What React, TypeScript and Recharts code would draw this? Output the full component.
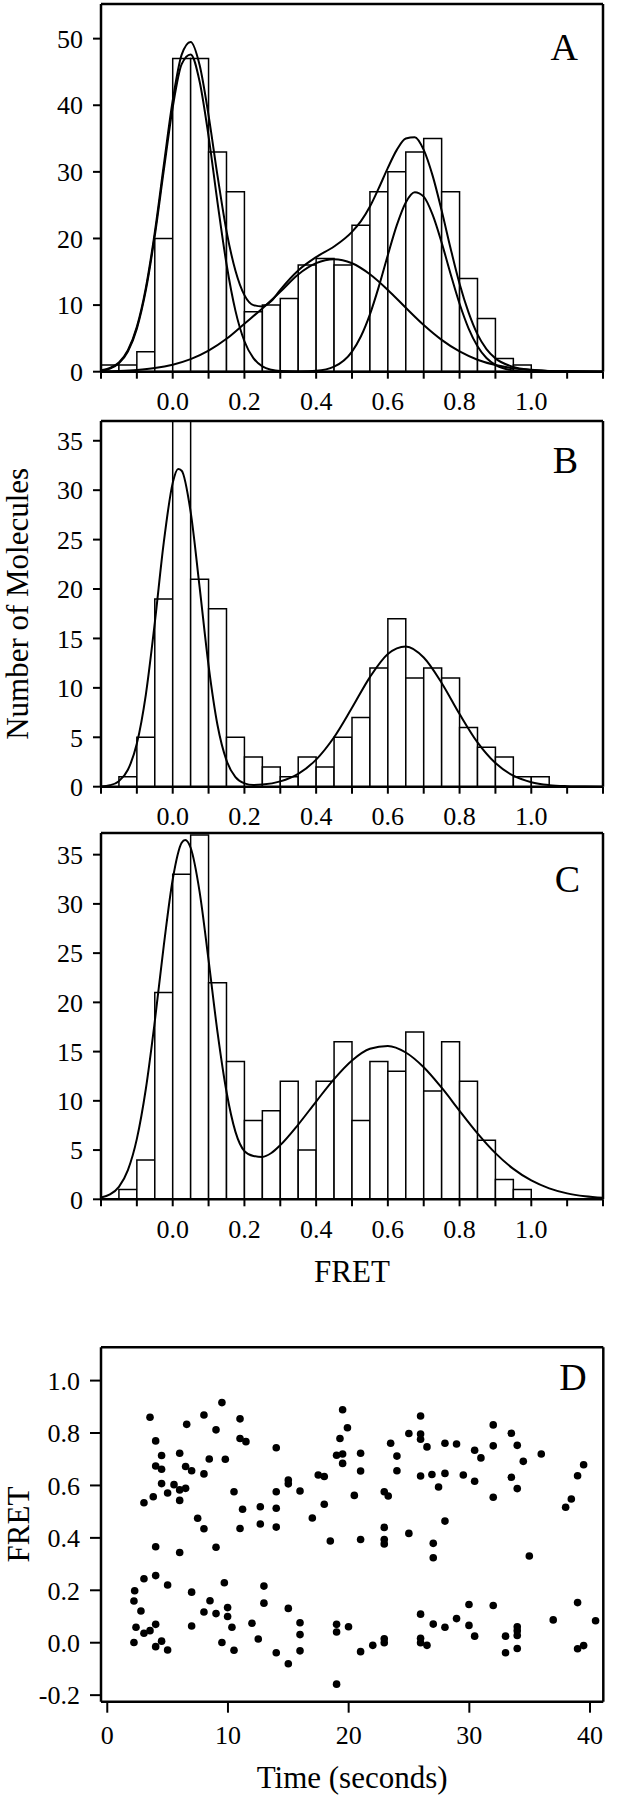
import React from "react";
import { ComposedChart, Bar, Line, Scatter, XAxis, YAxis, Label } from "recharts";

// ---------------- data ----------------
const binStarts = [-0.2, -0.15, -0.1, -0.05, 0, 0.05, 0.1, 0.15, 0.2, 0.25, 0.3, 0.35, 0.4, 0.45, 0.5, 0.55, 0.6, 0.65, 0.7, 0.75, 0.8, 0.85, 0.9, 0.95, 1.0, 1.05, 1.1, 1.15];
const binWidth = 0.05;

const countsA = [1, 1, 3, 20, 47, 47, 33, 27, 9, 10, 11, 16, 17, 16, 22, 27, 30, 33, 35, 27, 14, 8, 2, 1, 0, 0, 0, 0];
const countsB = [0, 1, 5, 19, 37, 21, 18, 5, 3, 2, 1, 3, 2, 5, 7, 12, 17, 11, 12, 11, 6, 4, 3, 1, 1, 0, 0, 0];
const countsC = [0, 1, 4, 21, 33, 37, 22, 14, 8, 9, 12, 5, 12, 16, 8, 14, 13, 17, 11, 16, 12, 6, 2, 1, 0, 0, 0, 0];

// fitted curves
const fitASumX = [-0.2, -0.175, -0.15, -0.125, -0.1, -0.075, -0.05, -0.025, 0, 0.025, 0.05, 0.075, 0.1, 0.125, 0.15, 0.175, 0.2, 0.225, 0.25, 0.275, 0.3, 0.35, 0.4, 0.45, 0.5, 0.525, 0.55, 0.575, 0.6, 0.625, 0.65, 0.675, 0.7, 0.725, 0.75, 0.775, 0.8, 0.825, 0.85, 0.875, 0.9, 0.95, 1.0, 1.05, 1.1, 1.15, 1.2];
const fitASumY = [0.2, 0.55, 1.39, 3.22, 6.73, 12.58, 20.93, 30.96, 40.71, 47.59, 49.51, 46.04, 38.48, 29.39, 21.11, 15.16, 11.5, 10.0, 9.8, 10.6, 12.3, 15.2, 17.2, 18.8, 21.0, 22.6, 24.8, 27.6, 30.6, 33.3, 35.0, 35.2, 33.3, 29.4, 24.2, 18.5, 13.2, 8.9, 5.6, 3.4, 2.0, 0.72, 0.28, 0.11, 0.05, 0.02, 0.01];

const fitAG1X = [-0.2, -0.175, -0.15, -0.125, -0.1, -0.075, -0.05, -0.025, 0, 0.025, 0.05, 0.075, 0.1, 0.125, 0.15, 0.175, 0.2, 0.225, 0.25, 0.275, 0.3, 0.35, 0.4, 0.6, 0.8, 1.0, 1.2];
const fitAG1Y = [0.15, 0.47, 1.27, 3.04, 6.47, 12.2, 20.39, 30.2, 39.66, 46.17, 47.63, 43.57, 35.32, 25.39, 16.17, 9.13, 4.57, 2.03, 0.8, 0.28, 0.09, 0.01, 0, 0, 0, 0, 0];

const fitAG2X = [-0.2, -0.15, -0.1, -0.05, 0, 0.05, 0.1, 0.15, 0.2, 0.25, 0.3, 0.35, 0.4, 0.45, 0.5, 0.55, 0.6, 0.65, 0.7, 0.75, 0.8, 0.85, 0.9, 0.95, 1.0, 1.05, 1.1, 1.15, 1.2];
const fitAG2Y = [0.05, 0.12, 0.26, 0.54, 1.05, 1.88, 3.16, 4.94, 7.21, 9.5, 12.0, 14.6, 16.3, 16.9, 16.28, 14.63, 12.27, 9.6, 7.01, 4.78, 3.04, 1.8, 1.0, 0.52, 0.25, 0.11, 0.05, 0.02, 0.01];

const fitAG3X = [-0.2, 0.3, 0.35, 0.4, 0.45, 0.5, 0.525, 0.55, 0.575, 0.6, 0.625, 0.65, 0.675, 0.7, 0.725, 0.75, 0.775, 0.8, 0.825, 0.85, 0.875, 0.9, 0.95, 1.0, 1.05, 1.2];
const fitAG3Y = [0, 0, 0.02, 0.13, 0.76, 3.02, 5.32, 8.61, 12.81, 17.52, 22.0, 25.41, 26.95, 26.28, 23.54, 19.38, 14.67, 10.2, 6.52, 3.83, 2.06, 1.02, 0.2, 0.03, 0, 0];

const fitBX = [-0.2, -0.175, -0.15, -0.125, -0.1, -0.075, -0.05, -0.025, 0, 0.015, 0.025, 0.05, 0.075, 0.1, 0.125, 0.15, 0.175, 0.2, 0.225, 0.25, 0.3, 0.35, 0.4, 0.45, 0.5, 0.55, 0.6, 0.65, 0.7, 0.75, 0.8, 0.85, 0.9, 0.95, 1.0, 1.05, 1.1, 1.15, 1.2];
const fitBY = [0.03, 0.15, 0.56, 1.71, 4.36, 9.3, 16.57, 24.69, 30.74, 32.15, 31.97, 27.8, 20.19, 12.26, 6.22, 2.66, 0.96, 0.34, 0.18, 0.22, 0.54, 1.3, 2.74, 5.0, 7.98, 11.09, 13.43, 14.19, 13.07, 10.5, 7.35, 4.48, 2.39, 1.11, 0.45, 0.16, 0.05, 0.01, 0];

const fitCX = [-0.2, -0.175, -0.15, -0.125, -0.1, -0.075, -0.05, -0.025, 0, 0.025, 0.035, 0.05, 0.075, 0.1, 0.125, 0.15, 0.175, 0.2, 0.225, 0.25, 0.275, 0.3, 0.35, 0.4, 0.45, 0.5, 0.55, 0.6, 0.65, 0.7, 0.75, 0.8, 0.85, 0.9, 0.95, 1.0, 1.05, 1.1, 1.15, 1.2];
const fitCY = [0.17, 0.49, 1.27, 2.97, 6.14, 11.2, 18.06, 25.73, 32.48, 36.2, 36.5, 35.7, 31.23, 24.28, 16.95, 10.92, 6.85, 4.9, 4.4, 4.3, 4.7, 5.5, 7.59, 9.93, 12.21, 14.1, 15.29, 15.58, 14.91, 13.41, 11.33, 8.99, 6.7, 4.69, 3.09, 1.91, 1.11, 0.6, 0.31, 0.15];

// tick labels
const fretTicks = [-0.2, -0.1, 0, 0.1, 0.2, 0.3, 0.4, 0.5, 0.6, 0.7, 0.8, 0.9, 1.0, 1.1, 1.2];
const fretTickLabels = ["", "", "0.0", "", "0.2", "", "0.4", "", "0.6", "", "0.8", "", "1.0", "", ""];
const yTicksA = [0, 10, 20, 30, 40, 50];
const yTicksBC = [0, 5, 10, 15, 20, 25, 30, 35];

// panel D: FRET vs time
const timeTicks = [0, 10, 20, 30, 40];
const dFretTicks = [-0.2, 0, 0.2, 0.4, 0.6, 0.8, 1.0];
const dFretTickLabels = ["-0.2", "0.0", "0.2", "0.4", "0.6", "0.8", "1.0"];
const dTime = [
  3.54, 4.01, 4.5, 4.01, 4.5, 4.5, 3.81, 3.04, 5.0, 5.53, 6.0, 6.49, 6.0, 6.0, 6.58, 6.49, 6.99, 8.01, 9.01, 9.5, 8.45, 8.01, 9.78, 11.0, 11.0, 11.49, 10.5, 11.21, 11.0, 7.49, 8.01, 4.01, 6.0, 9.01, 12.68, 12.68, 14.0, 14.0, 14.0, 14.0, 15.0, 15.0, 15.97, 17.48, 17.98, 17.98, 16.99, 18.48, 19.5, 19.9, 19.28, 19.0, 19.5, 19.5, 20.47, 20.99, 20.99, 20.99,
  2.27, 2.21, 2.79, 3.04, 4.01, 5.0, 2.38, 3.04, 3.54, 4.01, 2.21, 4.5, 4.01, 5.0, 6.99, 6.99, 8.01, 8.51, 9.01, 9.7, 9.97, 9.97, 10.33, 9.5, 10.5, 11.99, 12.51, 12.98, 12.98, 14.0, 15.0, 15.0, 15.97, 15.97, 15.97, 19.0, 19.0, 19.99, 20.99, 19.0,
  22.95, 23.28, 23.48, 24.0, 24.0, 24.99, 25.96, 25.96, 25.96, 26.49, 25.96, 26.9, 27.98, 27.98, 27.45, 28.94, 29.5, 30.44, 30.96, 30.44, 31.98, 31.98, 31.98, 33.48, 33.97, 34.47, 33.48, 33.97, 35.96, 39.47, 38.97, 38.45, 37.98,
  22.95, 22.95, 22.95, 24.99, 27.98, 27.01, 27.01, 34.97,
  22.0, 22.95, 22.95, 25.96, 25.96, 25.96, 26.49, 27.01, 27.98, 28.94, 29.97, 29.97, 30.44, 31.98, 33.0, 33.0, 33.97, 33.97, 33.97, 33.97, 36.95, 38.97, 38.97, 39.47, 40.46,
];
const dFret = [
  0.86, 0.77, 0.714, 0.674, 0.662, 0.607, 0.557, 0.534, 0.571, 0.603, 0.583, 0.589, 0.543, 0.723, 0.833, 0.672, 0.656, 0.869, 0.812, 0.916, 0.701, 0.644, 0.7, 0.854, 0.779, 0.767, 0.576, 0.509, 0.436, 0.475, 0.435, 0.366, 0.344, 0.364, 0.519, 0.453, 0.744, 0.576, 0.513, 0.441, 0.621, 0.606, 0.579, 0.64, 0.634, 0.528, 0.476, 0.388, 0.889, 0.82, 0.779, 0.715, 0.72, 0.684, 0.562, 0.723, 0.655, 0.394,
  0.198, 0.159, 0.121, 0.244, 0.256, 0.22, 0.059, 0.036, 0.046, 0.07, 0.001, 0.006, -0.015, -0.028, 0.193, 0.064, 0.117, 0.16, 0.111, 0.229, 0.134, 0.1, 0.059, 0.001, -0.029, 0.074, 0.014, 0.216, 0.151, -0.038, 0.131, -0.08, 0.076, 0.031, -0.031, 0.07, 0.041, 0.061, -0.034, -0.158,
  0.576, 0.56, 0.761, 0.712, 0.656, 0.798, 0.865, 0.796, 0.776, 0.747, 0.636, 0.642, 0.761, 0.646, 0.594, 0.758, 0.64, 0.734, 0.705, 0.616, 0.831, 0.751, 0.555, 0.799, 0.753, 0.692, 0.631, 0.588, 0.72, 0.679, 0.637, 0.548, 0.517,
  0.44, 0.394, 0.377, 0.417, 0.464, 0.379, 0.324, 0.331,
  -0.01, 0.015, 0.0, 0.109, 0.017, 0.0, -0.01, 0.071, 0.059, 0.092, 0.146, 0.066, 0.025, 0.142, 0.025, -0.038, 0.061, 0.046, 0.028, -0.022, 0.087, 0.153, -0.023, -0.011, 0.084,
];

// ---------------- layout / style ----------------
const W = 617;
const PLOT_LEFT = 101;
const PLOT_RIGHT = 603;
const FRET_DOMAIN: [number, number] = [-0.2, 1.2];
const TIME_DOMAIN: [number, number] = [-0.52, 41.1];
const DFRET_DOMAIN: [number, number] = [-0.225, 1.127];
const BIN_PX = ((PLOT_RIGHT - PLOT_LEFT) * binWidth) / (FRET_DOMAIN[1] - FRET_DOMAIN[0]);

const FONT = "'Liberation Serif', 'Times New Roman', Times, serif";
const TICK_FS = 26;
const tickStyle = { fill: "#000", fontSize: TICK_FS, fontFamily: FONT };
const titleStyle = { fill: "#000", fontSize: 31, fontFamily: FONT };
const axisStyle = { stroke: "#000", strokeWidth: 2.5 };
const tickLineStyle = { stroke: "#000", strokeWidth: 2 };

const CSS = `
.recharts-wrapper text, .recharts-surface text { font-family: ${FONT}; }
.recharts-cartesian-axis-tick-value { font-size: ${TICK_FS}px; fill: #000; }
`;

const fmtFret = (v: number) => {
  const i = fretTicks.findIndex((t) => Math.abs(t - v) < 1e-6);
  return i >= 0 ? fretTickLabels[i] : "";
};
const fmtDFret = (v: number) => {
  const i = dFretTicks.findIndex((t) => Math.abs(t - v) < 1e-6);
  return i >= 0 ? dFretTickLabels[i] : "";
};

const letterContent = (letter: string, rightInset: number, baseline: number) => (props: any) => {
  const vb = props && props.viewBox ? props.viewBox : { x: 0, y: 0, width: 0, height: 0 };
  return (
    <text
      x={vb.x + vb.width - rightInset}
      y={vb.y + vb.height + baseline}
      textAnchor="end"
      style={{ fontSize: 38, fontFamily: FONT, fill: "#000" }}
    >
      {letter}
    </text>
  );
};

// vertical axis title, centred on the plot height, baseline at a given x
const verticalTitle = (title: string, baselineX: number) => (props: any) => {
  const vb = props && props.viewBox ? props.viewBox : { x: 0, y: 0, width: 0, height: 0 };
  const cx = vb.x + baselineX;
  const cy = vb.y + vb.height / 2;
  return (
    <text
      x={cx}
      y={cy}
      textAnchor="middle"
      transform={`rotate(-90, ${cx}, ${cy})`}
      style={{ fontSize: 31, fontFamily: FONT, fill: "#000" }}
    >
      {title}
    </text>
  );
};

type Curve = { x: number[]; y: number[] };

type HistProps = {
  top: number;
  height: number;
  mTop: number;
  mBottom: number;
  xAxisHeight: number;
  counts: number[];
  yMax: number;
  yTicks: number[];
  curves: Curve[];
  letter: string;
  letterInset: number;
  letterBaseline: number;
  yTitle?: string;
  xTitle?: string;
  xTitleOffset?: number;
};

function Histogram(p: HistProps) {
  const rows = binStarts.map((s, i) => ({ x: s + binWidth / 2, count: p.counts[i] }));
  return (
    <div style={{ position: "absolute", left: 0, top: p.top, width: W, height: p.height }}>
      <ComposedChart
        width={W}
        height={p.height}
        data={rows}
        margin={{ top: p.mTop, right: W - PLOT_RIGHT - 1, bottom: p.mBottom, left: 0 }}
      >
        <Bar
          xAxisId="bars"
          dataKey="count"
          fill="#ffffff"
          stroke="#000"
          strokeWidth={1.5}
          barSize={BIN_PX - 0.01}
          isAnimationActive={false}
        />
        {p.curves.map((c, i) => (
          <Line
            key={i}
            xAxisId="lines"
            data={c.x.map((x, j) => ({ x, y: c.y[j] }))}
            dataKey="y"
            type="monotone"
            dot={false}
            activeDot={false}
            stroke="#000"
            strokeWidth={2}
            isAnimationActive={false}
          />
        ))}
        <XAxis
          xAxisId="bars"
          type="number"
          dataKey="x"
          domain={FRET_DOMAIN}
          allowDataOverflow
          ticks={fretTicks}
          interval={0}
          tickFormatter={fmtFret}
          tickSize={7}
          tickMargin={13}
          height={p.xAxisHeight}
          axisLine={axisStyle}
          tickLine={tickLineStyle}
          tick={tickStyle}
          fontSize={TICK_FS}
          fontFamily={FONT}
        >
          {p.xTitle ? (
            <Label value={p.xTitle} position="insideBottom" offset={p.xTitleOffset} style={titleStyle} />
          ) : null}
        </XAxis>
        <XAxis xAxisId="lines" type="number" dataKey="x" domain={FRET_DOMAIN} allowDataOverflow hide height={0} />
        <XAxis
          xAxisId="top"
          orientation="top"
          type="number"
          domain={FRET_DOMAIN}
          allowDataOverflow
          ticks={fretTicks}
          height={1}
          tick={false}
          tickLine={false}
          axisLine={axisStyle}
        >
          <Label content={letterContent(p.letter, p.letterInset, p.letterBaseline)} />
        </XAxis>
        <YAxis
          type="number"
          domain={[0, p.yMax]}
          allowDataOverflow
          ticks={p.yTicks}
          interval={0}
          width={PLOT_LEFT}
          tickSize={8}
          tickMargin={10}
          axisLine={axisStyle}
          tickLine={tickLineStyle}
          tick={tickStyle}
          fontSize={TICK_FS}
          fontFamily={FONT}
        >
          {p.yTitle ? <Label content={verticalTitle(p.yTitle, 28.5)} /> : null}
        </YAxis>
        <YAxis
          yAxisId="right"
          orientation="right"
          type="number"
          domain={[0, p.yMax]}
          allowDataOverflow
          ticks={p.yTicks}
          width={1}
          tick={false}
          tickLine={false}
          axisLine={axisStyle}
        />
      </ComposedChart>
    </div>
  );
}

const dotShape = (props: any) => <circle cx={props.cx} cy={props.cy} r={3.8} fill="#000" />;

function TimePanel() {
  const pts = dTime.map((t, i) => ({ t, f: dFret[i] }));
  const top = 1320;
  const height = 480;
  return (
    <div style={{ position: "absolute", left: 0, top, width: W, height }}>
      <ComposedChart width={W} height={height} margin={{ top: 26.3, right: W - 603.3 - 1, bottom: 8.3, left: 0 }}>
        <Scatter data={pts} fill="#000" shape={dotShape} isAnimationActive={false} />
        <XAxis
          type="number"
          dataKey="t"
          domain={TIME_DOMAIN}
          allowDataOverflow
          ticks={timeTicks}
          interval={0}
          tickSize={11}
          tickMargin={12.6}
          height={90}
          axisLine={axisStyle}
          tickLine={tickLineStyle}
          tick={tickStyle}
          fontSize={TICK_FS}
          fontFamily={FONT}
        >
          <Label value="Time (seconds)" position="insideBottom" offset={3.7} style={titleStyle} />
        </XAxis>
        <XAxis
          xAxisId="top"
          orientation="top"
          type="number"
          domain={TIME_DOMAIN}
          allowDataOverflow
          ticks={timeTicks}
          interval={0}
          tickSize={11}
          height={1}
          tick={false}
          axisLine={axisStyle}
          tickLine={tickLineStyle}
        >
          <Label content={letterContent("D", 16.6, 43)} />
        </XAxis>
        <YAxis
          type="number"
          dataKey="f"
          domain={DFRET_DOMAIN}
          allowDataOverflow
          ticks={dFretTicks}
          interval={0}
          tickFormatter={fmtDFret}
          width={PLOT_LEFT}
          tickSize={11}
          tickMargin={10}
          axisLine={axisStyle}
          tickLine={tickLineStyle}
          tick={tickStyle}
          fontSize={TICK_FS}
          fontFamily={FONT}
        >
          <Label content={verticalTitle("FRET", 28.5)} />
        </YAxis>
        <YAxis
          yAxisId="right"
          orientation="right"
          type="number"
          domain={DFRET_DOMAIN}
          allowDataOverflow
          ticks={dFretTicks}
          interval={0}
          tickSize={11}
          width={1}
          tick={false}
          axisLine={axisStyle}
          tickLine={tickLineStyle}
        />
      </ComposedChart>
    </div>
  );
}

export default function App() {
  return (
    <div style={{ position: "absolute", left: 0, top: 0, width: W, height: 1800, background: "#fff", fontFamily: FONT }}>
      <style>{CSS}</style>
      <Histogram
        top={0}
        height={420}
        mTop={3}
        mBottom={8.3}
        xAxisHeight={40}
        counts={countsA}
        yMax={55.2}
        yTicks={yTicksA}
        curves={[
          { x: fitASumX, y: fitASumY },
          { x: fitAG1X, y: fitAG1Y },
          { x: fitAG2X, y: fitAG2Y },
          { x: fitAG3X, y: fitAG3Y },
        ]}
        letter="A"
        letterInset={25}
        letterBaseline={56}
      />
      <Histogram
        top={400}
        height={430}
        mTop={20}
        mBottom={3.3}
        xAxisHeight={40}
        counts={countsB}
        yMax={37}
        yTicks={yTicksBC}
        curves={[{ x: fitBX, y: fitBY }]}
        letter="B"
        letterInset={25}
        letterBaseline={52}
        yTitle="Number of Molecules"
      />
      <Histogram
        top={815}
        height={485}
        mTop={17}
        mBottom={10.7}
        xAxisHeight={90}
        counts={countsC}
        yMax={37.2}
        yTicks={yTicksBC}
        curves={[{ x: fitCX, y: fitCY }]}
        letter="C"
        letterInset={23}
        letterBaseline={59}
        xTitle="FRET"
        xTitleOffset={7.3}
      />
      <TimePanel />
    </div>
  );
}
